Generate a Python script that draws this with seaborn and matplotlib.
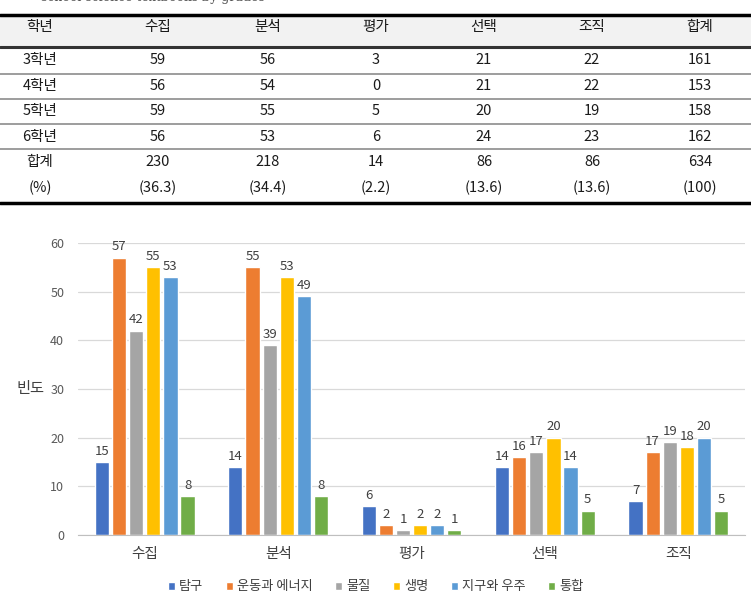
import seaborn as sns
import matplotlib.pyplot as plt
import pandas as pd
from matplotlib.lines import Line2D
from matplotlib.patches import Rectangle

# table data
table_cols = ["학년", "수집", "분석", "평가", "선택", "조직", "합계"]
grades = ["3학년", "4학년", "5학년", "6학년"]
grade_vals = [[59, 56, 3, 21, 22, 161],
              [56, 54, 0, 21, 22, 153],
              [59, 55, 5, 20, 19, 158],
              [56, 53, 6, 24, 23, 162]]
total_vals = [230, 218, 14, 86, 86, 634]
pct_vals = ["(36.3)", "(34.4)", "(2.2)", "(13.6)", "(13.6)", "(100)"]

# chart data
categories = ["수집", "분석", "평가", "선택", "조직"]
series = ["탐구", "운동과 에너지", "물질", "생명", "지구와 우주", "통합"]
values = {
    "탐구": [15, 14, 6, 14, 7],
    "운동과 에너지": [57, 55, 2, 16, 17],
    "물질": [42, 39, 1, 17, 19],
    "생명": [55, 53, 2, 20, 18],
    "지구와 우주": [53, 49, 2, 14, 20],
    "통합": [8, 8, 1, 5, 5],
}
colors = ["#4472C4", "#ED7D31", "#A5A5A5", "#FFC000", "#5B9BD5", "#70AD47"]

sns.set_style("white")
plt.rcParams['font.family'] = ['Noto Sans CJK KR', 'DejaVu Sans']

fig = plt.figure(figsize=(7.51, 6.12), dpi=100)

# ---- table (pixel coords overlay)
tab = fig.add_axes([0, 0, 1, 1])
tab.set_xlim(0, 751)
tab.set_ylim(612, 0)
tab.axis("off")

# caption line, cut at the top edge like the source
fig.text(0.055, 1.004, "school science textbooks by grades", family="DejaVu Serif",
         fontsize=9, color="#555555", va="center")

col_x = [40, 158, 268, 376, 484, 592, 700]
tab.add_patch(Rectangle((0, 16), 751, 30, color="#F2F2F2", lw=0))
tab.add_line(Line2D([0, 751], [15, 15], color="black", lw=2.5))
tab.add_line(Line2D([0, 751], [47, 47], color="#333333", lw=2.2))
for y in [74, 99, 124, 149]:
    tab.add_line(Line2D([0, 751], [y, y], color="#8C8C8C", lw=1.2))
tab.add_line(Line2D([0, 751], [203, 203], color="black", lw=2.5))

fs = 10.5
tc = "#1a1a1a"
for x, c in zip(col_x, table_cols):
    tab.text(x, 27, c, ha="center", va="center", fontsize=fs, color=tc)
row_y = [60, 86, 111, 137]
for y, g, vals in zip(row_y, grades, grade_vals):
    tab.text(col_x[0], y, g, ha="center", va="center", fontsize=fs, color=tc)
    for x, v in zip(col_x[1:], vals):
        tab.text(x, y, str(v), ha="center", va="center", fontsize=fs, color=tc)
tab.text(col_x[0], 162, "합계", ha="center", va="center", fontsize=fs, color=tc)
tab.text(col_x[0], 188, "(%)", ha="center", va="center", fontsize=fs, color=tc)
for x, v, p in zip(col_x[1:], total_vals, pct_vals):
    tab.text(x, 162, str(v), ha="center", va="center", fontsize=fs, color=tc)
    tab.text(x, 188, p, ha="center", va="center", fontsize=fs, color=tc)

# ---- bar chart
rows = []
for s in series:
    for c, v in zip(categories, values[s]):
        rows.append({"category": c, "series": s, "value": v})
df = pd.DataFrame(rows)

ax = fig.add_axes([0.104, 0.126, 0.888, 0.477])
sns.barplot(data=df, x="category", y="value", hue="series", hue_order=series,
            order=categories, palette=colors, width=0.77, gap=0.17,
            saturation=1, ax=ax, errorbar=None)

for cont in ax.containers:
    ax.bar_label(cont, padding=3, fontsize=9.5, color="#404040")

ax.set_ylim(0, 60)
ax.set_yticks([0, 10, 20, 30, 40, 50, 60])
ax.yaxis.grid(True, color="#D9D9D9", lw=0.9)
ax.set_axisbelow(True)
for sp in ["left", "right", "top"]:
    ax.spines[sp].set_visible(False)
ax.spines["bottom"].set_color("#BFBFBF")
ax.tick_params(axis="y", length=0, pad=10, labelsize=9, labelcolor="#595959")
ax.tick_params(axis="x", length=0, pad=9, labelsize=10.5, labelcolor="#404040")
ax.set_xlabel("")
ax.set_ylabel("빈도", rotation=0, fontsize=11, color="#404040", va="center", ha="center")
ax.yaxis.set_label_coords(-0.072, 0.5)

ax.legend(loc="center", bbox_to_anchor=(0.446, -0.178), ncol=6, frameon=False,
          handlelength=0.55, handleheight=0.55, handletextpad=0.3, columnspacing=1.7,
          fontsize=9.5, labelcolor="#404040")

fig.savefig("out.png", dpi=100)
